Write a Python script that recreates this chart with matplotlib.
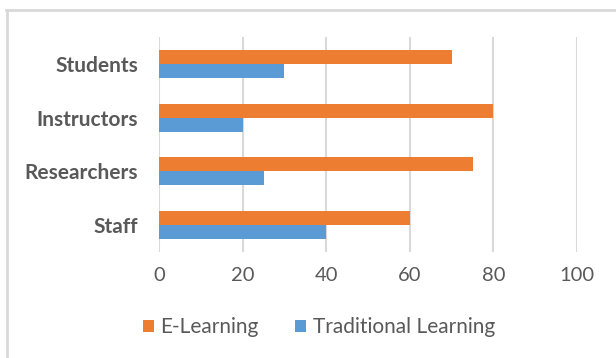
import numpy as np
import matplotlib.pyplot as plt
from matplotlib.lines import Line2D

# Data
categories = ["Students", "Instructors", "Researchers", "Staff"]
e_learning = [70, 80, 75, 60]
traditional = [30, 20, 25, 40]
x_ticks = [0, 20, 40, 60, 80, 100]

plt.rcParams['font.family'] = ['Lato', 'DejaVu Sans']
txt = "#595959"
grid = "#D9D9D9"

fig = plt.figure(figsize=(6.16, 3.58), dpi=100)
ax = fig.add_axes([159/616, 1-252/358, (577-159)/616, (252-37)/358])

# Students on top
y = np.arange(len(categories))[::-1]
h = 0.26
ax.barh(y + h/2, e_learning, height=h, color="#ED7D31", label="E-Learning")
ax.barh(y - h/2, traditional, height=h, color="#5B9BD5", label="Traditional Learning")

ax.set_xlim(0, 100)
ax.set_ylim(-0.5, len(categories) - 0.5)
ax.set_xticks(x_ticks)
ax.set_yticks(y)
ax.set_yticklabels(categories, fontweight="bold", fontsize=15)
ax.tick_params(axis="both", length=0, colors=txt)
ax.tick_params(axis="x", pad=11, labelsize=14.5)
ax.tick_params(axis="y", pad=15)
ax.xaxis.grid(True, color=grid, linewidth=1.5)
ax.set_axisbelow(True)
for s in ax.spines.values():
    s.set_visible(False)

# Legend at the bottom
fig.legend(loc="center", bbox_to_anchor=(319/616, 1-327/358), ncol=2, frameon=False,
           fontsize=15, labelcolor=txt, handlelength=0.5, handleheight=0.5,
           handletextpad=0.33, columnspacing=1.75)

# Chart border (top and left visible)
fig.add_artist(Line2D([6/616, 1], [1-10/358, 1-10/358], color=grid, linewidth=2,
                      transform=fig.transFigure))
fig.add_artist(Line2D([7/616, 7/616], [0, 1-10/358], color=grid, linewidth=2,
                      transform=fig.transFigure))

plt.savefig("out.png", dpi=100)
